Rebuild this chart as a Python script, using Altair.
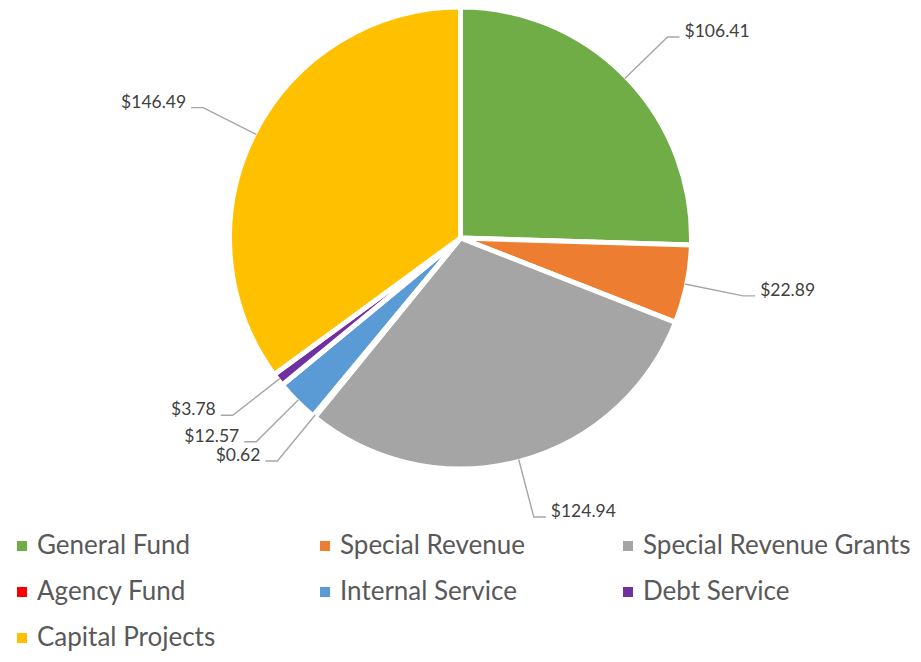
import math
import pandas as pd
import altair as alt

# ---- data ----
categories = ["General Fund", "Special Revenue", "Special Revenue Grants",
              "Agency Fund", "Internal Service", "Debt Service", "Capital Projects"]
values = [106.41, 22.89, 124.94, 0.62, 12.57, 3.78, 146.49]
colors = ["#70AD47", "#ED7D31", "#A5A5A5", "#FF0000", "#5B9BD5", "#7030A0", "#FFC000"]

# ---- layout constants (pixel units relative to the pie centre) ----
W, H = 905, 460
PAD_BOTTOM = 186
R_OUT = 231
R_EDGE = 229
ELBOW = 1.26
TAIL = 12
LEG_COLS = 3
LEG_X0, LEG_DX = -423.5, 303
LEG_Y0, LEG_DY = -308, 46
LEG_SYM_OFF = 15

pie_df = pd.DataFrame({"category": categories, "value": values,
                       "idx": list(range(len(categories)))})

total = sum(values)
line_rows, label_rows = [], []
cum = 0.0
for i, (c, v) in enumerate(zip(categories, values)):
    mid = (cum + v / 2) / total * 2 * math.pi
    cum += v
    s, co = math.sin(mid), math.cos(mid)
    side = 1 if s >= 0 else -1
    p0 = (R_EDGE * s, R_EDGE * co)
    p1 = (ELBOW * R_EDGE * s, ELBOW * R_EDGE * co)
    p2 = (p1[0] + side * TAIL, p1[1])
    for k, p in enumerate([p0, p1, p2]):
        line_rows.append({"category": c, "k": k, "x": p[0], "y": p[1]})
    label_rows.append({"category": c, "x": p2[0], "y": p2[1],
                       "side": "right" if side > 0 else "left",
                       "text": f"${v:,.2f}"})

lines_df = pd.DataFrame(line_rows)
labels_df = pd.DataFrame(label_rows)

leg_rows = []
for i, c in enumerate(categories):
    col, row = i % LEG_COLS, i // LEG_COLS
    lx = LEG_X0 + col * LEG_DX
    ly = LEG_Y0 - row * LEG_DY
    leg_rows.append({"category": c, "lx": lx, "sx": lx - LEG_SYM_OFF, "y": ly})
leg_df = pd.DataFrame(leg_rows)

xs = alt.Scale(domain=[-W / 2, W / 2], nice=False, zero=False)
ys = alt.Scale(domain=[-H / 2, H / 2], nice=False, zero=False)
cs = alt.Scale(domain=categories, range=colors)

pie = alt.Chart(pie_df).mark_arc(outerRadius=R_OUT, stroke="white", strokeWidth=5,
                                 strokeJoin="round").encode(
    theta=alt.Theta("value:Q", stack=True),
    order=alt.Order("idx:Q"),
    color=alt.Color("category:N", scale=cs, legend=None),
)

leaders = alt.Chart(lines_df).mark_line(color="#A6A6A6", strokeWidth=1.4).encode(
    x=alt.X("x:Q", scale=xs, axis=None),
    y=alt.Y("y:Q", scale=ys, axis=None),
    detail="category:N",
    order="k:Q",
)

lab_right = alt.Chart(labels_df).transform_filter(alt.datum.side == "right").mark_text(
    align="left", baseline="middle", dx=5, dy=-5, font="Lato", fontSize=17.5, color="#404040"
).encode(x=alt.X("x:Q", scale=xs, axis=None), y=alt.Y("y:Q", scale=ys, axis=None), text="text:N")

lab_left = alt.Chart(labels_df).transform_filter(alt.datum.side == "left").mark_text(
    align="right", baseline="middle", dx=-5, dy=-5, font="Lato", fontSize=17.5, color="#404040"
).encode(x=alt.X("x:Q", scale=xs, axis=None), y=alt.Y("y:Q", scale=ys, axis=None), text="text:N")

leg_sym = alt.Chart(leg_df).mark_square(size=100, opacity=1).encode(
    x=alt.X("sx:Q", scale=xs, axis=None),
    y=alt.Y("y:Q", scale=ys, axis=None),
    color=alt.Color("category:N", scale=cs, legend=None),
)

leg_txt = alt.Chart(leg_df).mark_text(
    align="left", baseline="middle", font="Lato", fontSize=26, color="#595959"
).encode(
    x=alt.X("lx:Q", scale=xs, axis=None),
    y=alt.Y("y:Q", scale=ys, axis=None),
    text="category:N",
)

chart = alt.layer(pie, leaders, lab_right, lab_left, leg_sym, leg_txt).properties(
    width=W, height=H,
    padding={"left": 0, "top": 0, "right": 0, "bottom": PAD_BOTTOM},
    autosize=alt.AutoSizeParams(type="none"),
).configure_view(stroke=None)

chart.save("out.html", embed_options={"renderer": "svg", "actions": False})
